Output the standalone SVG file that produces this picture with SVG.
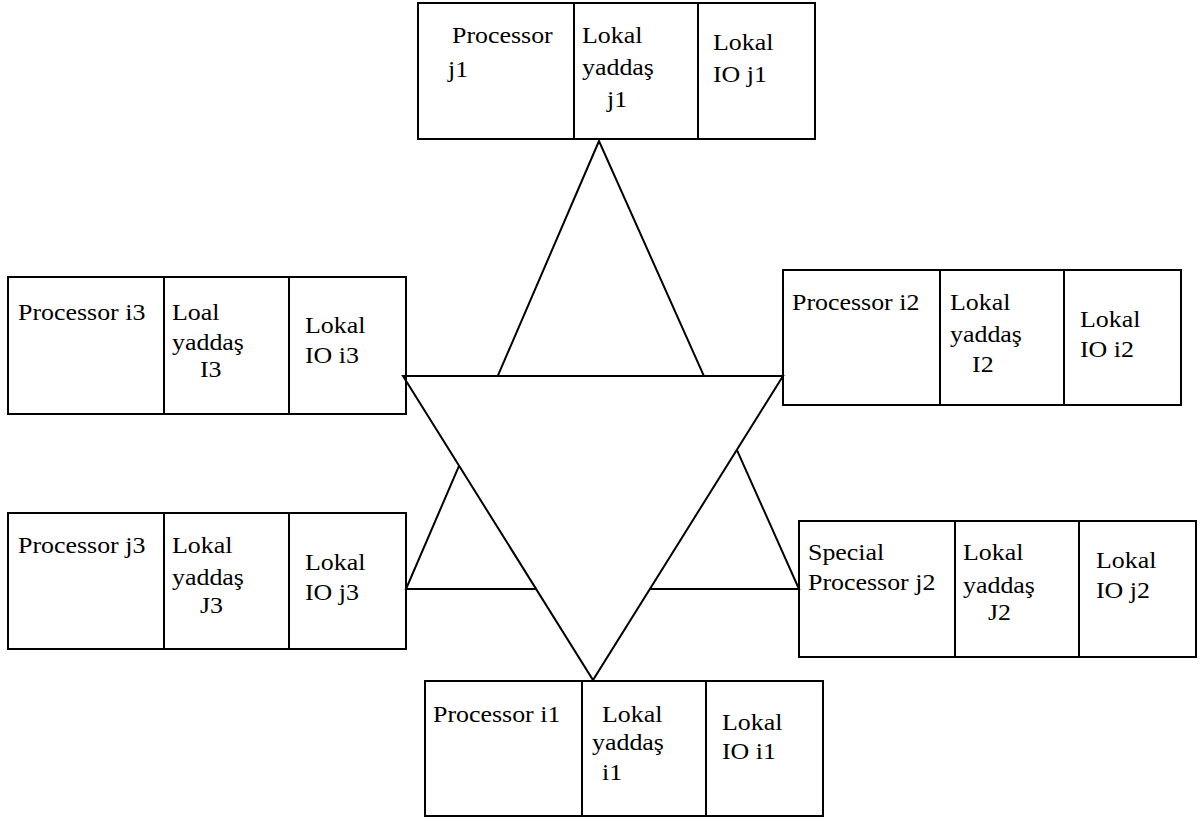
<svg xmlns="http://www.w3.org/2000/svg" width="1201" height="821" viewBox="0 0 1201 821">
  <style>
    .box { fill: none; stroke: #000; stroke-width: 2; }
    .div { stroke: #000; stroke-width: 2; }
    .link { stroke: #000; stroke-width: 2; stroke-linejoin: miter; }
    .lbl text { font-family: "Liberation Serif", "Times New Roman", serif; font-size: 24px; fill: #000;
                transform-box: fill-box; transform-origin: left center; transform: scaleX(1.08); }
  </style>
  <rect x="0" y="0" width="1201" height="821" fill="#fff"/>

  <!-- ring connections: upward triangle behind, downward triangle on top -->
  <g id="connectors">
    <polygon class="link" fill="none" points="599,141 406,589 799,589"/>
    <polygon class="link" fill="#fff" points="403,376 783,376 593,680"/>
  </g>

  <g class="lbl">
    <!-- node j1 (top) -->
    <g id="node-j1">
      <rect class="box" x="418" y="3" width="397" height="136"/>
      <line class="div" x1="574" y1="3" x2="574" y2="139"/>
      <line class="div" x1="698" y1="3" x2="698" y2="139"/>
      <text x="452" y="43">Processor</text>
      <text x="448" y="77">j1</text>
      <text x="582" y="43">Lokal</text>
      <text x="582" y="75">yaddaş</text>
      <text x="607" y="107">j1</text>
      <text x="713" y="50">Lokal</text>
      <text x="713" y="82">IO j1</text>
    </g>

    <!-- node i3 (upper left) -->
    <g id="node-i3">
      <rect class="box" x="8" y="277" width="398" height="137"/>
      <line class="div" x1="164" y1="277" x2="164" y2="414"/>
      <line class="div" x1="289" y1="277" x2="289" y2="414"/>
      <text x="18" y="320">Processor i3</text>
      <text x="172" y="320">Loal</text>
      <text x="172" y="350">yaddaş</text>
      <text x="200" y="377">I3</text>
      <text x="305" y="333">Lokal</text>
      <text x="305" y="363">IO i3</text>
    </g>

    <!-- node i2 (upper right) -->
    <g id="node-i2">
      <rect class="box" x="783" y="270" width="398" height="135"/>
      <line class="div" x1="940" y1="270" x2="940" y2="405"/>
      <line class="div" x1="1064" y1="270" x2="1064" y2="405"/>
      <text x="792" y="310">Processor i2</text>
      <text x="950" y="310">Lokal</text>
      <text x="950" y="342">yaddaş</text>
      <text x="972" y="372">I2</text>
      <text x="1080" y="327">Lokal</text>
      <text x="1080" y="357">IO i2</text>
    </g>

    <!-- node j3 (lower left) -->
    <g id="node-j3">
      <rect class="box" x="8" y="513" width="398" height="136"/>
      <line class="div" x1="164" y1="513" x2="164" y2="649"/>
      <line class="div" x1="289" y1="513" x2="289" y2="649"/>
      <text x="18" y="553">Processor j3</text>
      <text x="172" y="553">Lokal</text>
      <text x="172" y="585">yaddaş</text>
      <text x="200" y="613">J3</text>
      <text x="305" y="570">Lokal</text>
      <text x="305" y="600">IO j3</text>
    </g>

    <!-- node j2 (lower right) -->
    <g id="node-j2">
      <rect class="box" x="799" y="521" width="397" height="136"/>
      <line class="div" x1="955" y1="521" x2="955" y2="657"/>
      <line class="div" x1="1079" y1="521" x2="1079" y2="657"/>
      <text x="808" y="560">Special</text>
      <text x="808" y="590">Processor j2</text>
      <text x="963" y="560">Lokal</text>
      <text x="963" y="593">yaddaş</text>
      <text x="988" y="620">J2</text>
      <text x="1096" y="568">Lokal</text>
      <text x="1096" y="598">IO j2</text>
    </g>

    <!-- node i1 (bottom) -->
    <g id="node-i1">
      <rect class="box" x="425" y="681" width="398" height="135"/>
      <line class="div" x1="582" y1="681" x2="582" y2="816"/>
      <line class="div" x1="706" y1="681" x2="706" y2="816"/>
      <text x="433" y="722">Processor i1</text>
      <text x="602" y="722">Lokal</text>
      <text x="592" y="750">yaddaş</text>
      <text x="602" y="780">i1</text>
      <text x="722" y="730">Lokal</text>
      <text x="722" y="759">IO i1</text>
    </g>
  </g>
</svg>
